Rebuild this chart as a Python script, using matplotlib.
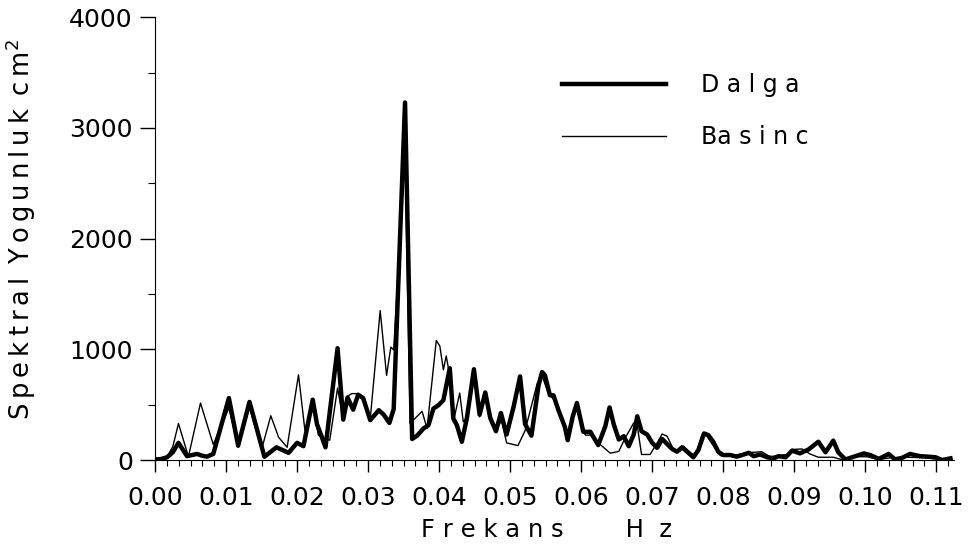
import matplotlib
matplotlib.use("Agg")
import matplotlib.pyplot as plt
from matplotlib.ticker import MultipleLocator

# Dalga (wave) spectrum
dalga_f = [0.0000, 0.0008, 0.0017, 0.0025, 0.0033, 0.0045, 0.0052, 0.0059, 0.0066, 0.0073,
           0.0082, 0.0104, 0.0117, 0.0133, 0.0154, 0.0171, 0.0188, 0.0200, 0.0209, 0.0222,
           0.0228, 0.0235, 0.0240, 0.0257, 0.0265, 0.0271, 0.0279, 0.0286, 0.0293, 0.0303,
           0.0315, 0.0322, 0.0330, 0.0336, 0.0352, 0.0362, 0.0369, 0.0378, 0.0385, 0.0392,
           0.0399, 0.0406, 0.0415, 0.0420, 0.0425, 0.0432, 0.0439, 0.0449, 0.0457, 0.0465,
           0.0472, 0.0480, 0.0487, 0.0495, 0.0505, 0.0514, 0.0521, 0.0530, 0.0540, 0.0545,
           0.0549, 0.0556, 0.0561, 0.0568, 0.0577, 0.0581, 0.0588, 0.0594, 0.0603, 0.0613,
           0.0624, 0.0634, 0.0640, 0.0646, 0.0653, 0.0660, 0.0667, 0.0674, 0.0679, 0.0685,
           0.0693, 0.0700, 0.0707, 0.0714, 0.0721, 0.0728, 0.0735, 0.0742, 0.0751, 0.0758,
           0.0765, 0.0773, 0.0779, 0.0786, 0.0793, 0.0800, 0.0810, 0.0819, 0.0829, 0.0836,
           0.0843, 0.0852, 0.0862, 0.0871, 0.0878, 0.0888, 0.0897, 0.0908, 0.0920, 0.0934,
           0.0944, 0.0955, 0.0962, 0.0972, 0.0984, 0.0998, 0.1007, 0.1019, 0.1033, 0.1042,
           0.1052, 0.1063, 0.1077, 0.1089, 0.1099, 0.1108, 0.1120]
dalga_v = [5, 8, 25, 70, 155, 35, 45, 55, 40, 30,
           55, 560, 130, 525, 30, 115, 65, 155, 125, 545,
           325, 205, 115, 1010, 365, 565, 455, 590, 560, 360,
           450, 410, 335, 460, 3230, 190, 220, 285, 315, 465,
           495, 540, 830, 375, 315, 165, 375, 820, 410, 610,
           380, 260, 425, 230, 485, 755, 325, 220, 675, 795,
           765, 585, 585, 450, 300, 180, 390, 515, 255, 255,
           135, 305, 475, 320, 185, 215, 125, 230, 395, 260,
           230, 155, 110, 190, 145, 100, 75, 115, 65, 25,
           90, 240, 225, 165, 75, 45, 45, 30, 50, 65,
           35, 50, 25, 15, 35, 25, 85, 60, 95, 165,
           70, 175, 70, 5, 30, 60, 45, 10, 55, 5,
           20, 55, 35, 30, 25, 0, 15]

# Basinc (pressure) spectrum
basinc_f = [0.0000, 0.0008, 0.0017, 0.0025, 0.0033, 0.0047, 0.0064, 0.0082, 0.0104, 0.0117,
            0.0133, 0.0150, 0.0163, 0.0174, 0.0186, 0.0202, 0.0211, 0.0222, 0.0230, 0.0237,
            0.0246, 0.0257, 0.0265, 0.0271, 0.0277, 0.0286, 0.0293, 0.0303, 0.0317, 0.0326,
            0.0332, 0.0336, 0.0352, 0.0359, 0.0376, 0.0383, 0.0396, 0.0401, 0.0406, 0.0410,
            0.0415, 0.0420, 0.0429, 0.0434, 0.0441, 0.0449, 0.0457, 0.0465, 0.0474, 0.0480,
            0.0488, 0.0495, 0.0511, 0.0521, 0.0538, 0.0545, 0.0554, 0.0561, 0.0570, 0.0580,
            0.0594, 0.0601, 0.0606, 0.0613, 0.0624, 0.0641, 0.0653, 0.0662, 0.0674, 0.0679,
            0.0685, 0.0697, 0.0707, 0.0714, 0.0721, 0.0730, 0.0739, 0.0744, 0.0754, 0.0761,
            0.0770, 0.0776, 0.0786, 0.0796, 0.0810, 0.0833, 0.0854, 0.0866, 0.0890, 0.0897,
            0.0911, 0.0922, 0.0934, 0.0955, 0.0969, 0.0988, 0.1002, 0.1019, 0.1035, 0.1059,
            0.1087, 0.1108, 0.1120]
basinc_v = [5, 8, 30, 120, 330, 30, 515, 140, 470, 115,
            480, 95, 400, 205, 115, 770, 270, 500, 225, 190,
            180, 650, 365, 575, 600, 600, 560, 370, 1350, 765,
            1020, 995, 2800, 330, 440, 285, 1080, 1030, 815, 940,
            760, 345, 605, 345, 400, 780, 390, 590, 340, 280,
            355, 155, 130, 265, 690, 760, 600, 550, 415, 235,
            480, 285, 225, 225, 155, 62, 78, 200, 335, 310,
            50, 50, 155, 235, 215, 95, 80, 125, 65, 35,
            225, 225, 130, 40, 35, 65, 75, 30, 50, 95,
            100, 55, 25, 25, 0, 30, 30, 5, 20, 25,
            20, 0, 15]

x_ticks = [0.00, 0.01, 0.02, 0.03, 0.04, 0.05, 0.06, 0.07, 0.08, 0.09, 0.10, 0.11]
y_ticks = [0, 1000, 2000, 3000, 4000]

fig = plt.figure(figsize=(9.8, 5.5), dpi=100)
ax = fig.add_axes([0.1582, 0.1636, 0.8153, 0.805])

ax.plot(dalga_f, dalga_v, color="black", lw=3.2, label="D a l g a")
ax.plot(basinc_f, basinc_v, color="black", lw=1.0, label="Ba s i n c")

ax.set_xlim(0, 0.1125)
ax.set_ylim(0, 4000)
for s in ("top", "right"):
    ax.spines[s].set_visible(False)

ax.set_xticks(x_ticks)
ax.set_xticklabels([f"{t:.2f}" for t in x_ticks])
ax.set_yticks(y_ticks)
ax.xaxis.set_minor_locator(MultipleLocator(0.01 / 6))
ax.yaxis.set_minor_locator(MultipleLocator(500))
ax.tick_params(axis="x", which="major", direction="out", length=8.5, width=1, pad=10, labelsize=18)
ax.tick_params(axis="x", which="minor", direction="out", length=4.5, width=0.8)
ax.tick_params(axis="y", which="major", direction="out", length=11, width=1, pad=5, labelsize=18)
ax.tick_params(axis="y", which="minor", direction="out", length=5, width=0.8)

ax.set_ylabel("S\u2009p\u2009e\u2009k\u2009t\u2009r\u2009a\u2009l\u2009 Y\u2009o\u2009g\u2009u\u2009n\u2009l\u2009u\u2009k\u2009 c\u2009m$^2$",
              fontsize=18.5)
ax.yaxis.set_label_coords(-0.146, 0.52)
ax.set_xlabel("F r e k a n s        H  z", fontsize=17.5)
ax.xaxis.set_label_coords(0.49, -0.13)

ax.legend(loc="upper left", bbox_to_anchor=(562 / 980, 1 - 73 / 550),
          bbox_transform=fig.transFigure, frameon=False, fontsize=17,
          handlelength=4.4, handletextpad=1.5, labelspacing=1.2,
          borderpad=0, borderaxespad=0)

fig.savefig("out.png", dpi=100)
